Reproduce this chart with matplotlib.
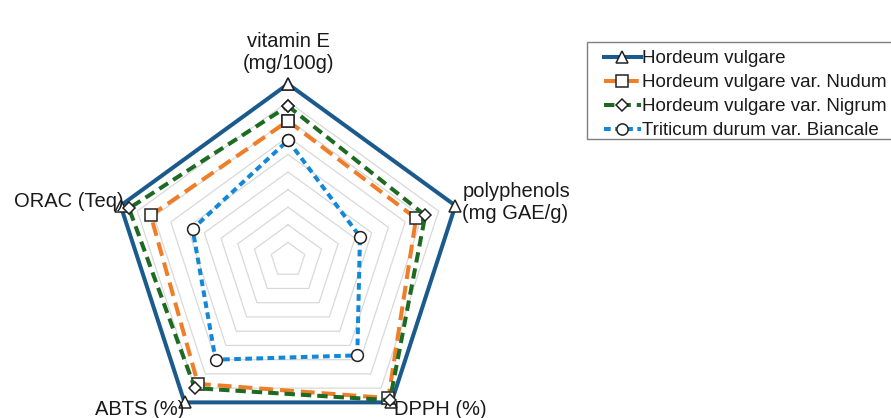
import numpy as np
import matplotlib
matplotlib.use("Agg")
import matplotlib.pyplot as plt
from matplotlib.patches import Rectangle

plt.rcParams['font.family'] = ['Liberation Sans', 'DejaVu Sans']
plt.rcParams['lines.scale_dashes'] = False

# axes of the radar, clockwise from the top
axes_labels = ['vitamin E\n(mg/100g)', 'polyphenols\n(mg GAE/g)', 'DPPH (%)', 'ABTS (%)', 'ORAC (Teq)']

# values relative to the best sample (= 1)
vulgare = [1.00, 1.00, 1.00, 1.00, 1.00]
nudum = [0.79, 0.765, 0.97, 0.87, 0.82]
nigrum = [0.875, 0.82, 0.985, 0.90, 0.95]
biancale = [0.68, 0.43, 0.67, 0.70, 0.57]

series_names = ['Hordeum vulgare', 'Hordeum vulgare var. Nudum',
                'Hordeum vulgare var. Nigrum', 'Triticum durum var. Biancale']
grid_levels = [0.1, 0.2, 0.3, 0.4, 0.5, 0.6, 0.7, 0.8, 0.9, 1.0]

n = len(axes_labels)
theta = np.arange(n) * 2 * np.pi / n
theta_c = np.append(theta, theta[0])

W, H = 891, 418
fig = plt.figure(figsize=(W / 100, H / 100), dpi=100)
ax = fig.add_axes([112 / W, (158 - 176) / H, 352 / W, 352 / H], projection='polar')
ax.set_theta_zero_location('N')
ax.set_theta_direction(-1)
ax.set_ylim(0, 1)
ax.grid(False)
ax.set_xticks([])
ax.set_yticks([])
ax.spines['polar'].set_visible(False)
ax.patch.set_alpha(0)

for lv in grid_levels:
    ax.plot(theta_c, [lv] * (n + 1), color='#D9D9D9', lw=0.9, zorder=1)

styles = [
    dict(color='#1B5A8C', ls='-', marker='^'),
    dict(color='#F07D28', dashes=(10, 5), marker='s'),
    dict(color='#1D6B22', dashes=(7.5, 4.3), marker='D'),
    dict(color='#1488D8', dashes=(4.8, 3.2), marker='o'),
]
msizes = [8.5, 8.5, 6.6, 8.5]

for vals, name, st, ms in zip([vulgare, nudum, nigrum, biancale], series_names, styles, msizes):
    v = list(vals) + [vals[0]]
    ax.plot(theta_c, v, lw=2.9, ms=ms, mfc='white', mec='#222222', mew=1.1,
            label=name, clip_on=False, zorder=3, **st)

# axis labels next to each vertex
offsets = [((0, 11), 'center', 'bottom'),
           ((7, 3), 'left', 'center'),
           ((3, -7), 'left', 'center'),
           ((0, -7), 'right', 'center'),
           ((3, 4), 'right', 'center')]
for t, lab, (off, ha, va) in zip(theta, axes_labels, offsets):
    ax.annotate(lab, xy=(t, 1.0), xytext=off, textcoords='offset pixels',
                ha=ha, va=va, fontsize=14.5, color='#1a1a1a', linespacing=1.22)

# legend without its own frame; box drawn separately so the side padding can be wider
leg = fig.legend(loc='upper left', bbox_to_anchor=(604 / W, 1 - 50 / H),
                 borderaxespad=0, borderpad=0, fontsize=13.5, handlelength=1.95,
                 handletextpad=0.08, labelspacing=0.37, frameon=False, markerscale=0.95)
for txt in leg.get_texts():
    txt.set_color('#1a1a1a')
fig.patches.append(Rectangle((587 / W, 1 - 139 / H), 320 / W, 97 / H,
                             transform=fig.transFigure, fill=False,
                             edgecolor='#7F7F7F', lw=1.0))

fig.savefig('out.png', dpi=100)
